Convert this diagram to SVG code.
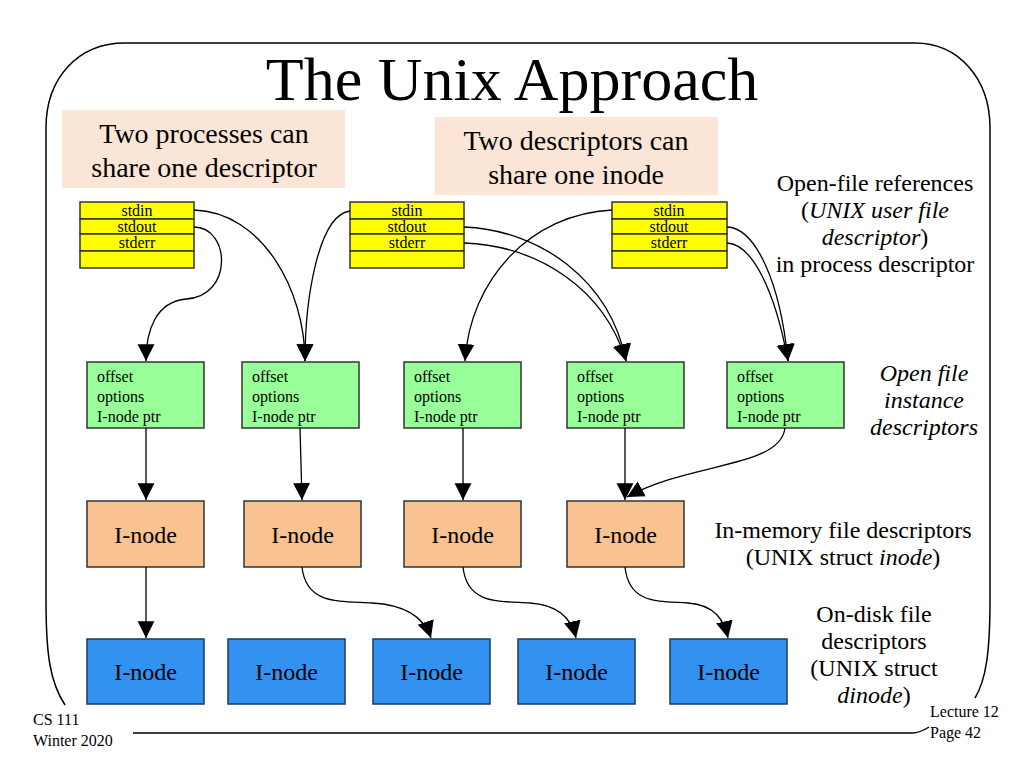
<svg xmlns="http://www.w3.org/2000/svg" width="1024" height="768" viewBox="0 0 1024 768" font-family="'Liberation Serif', 'Times New Roman', serif">
<defs>
<marker id="arr" markerUnits="userSpaceOnUse" markerWidth="18" markerHeight="18" viewBox="0 0 16 16" refX="15" refY="8" orient="auto">
<path d="M0,0.5 L15,8 L0,15.5 Z" fill="#000"/>
</marker>
<style>
text{font-family:"Liberation Serif","Times New Roman",serif;fill:#000}
.frame{fill:none;stroke:#000;stroke-width:1.5}
.note{fill:#fbe5d6}
.yel{fill:#ffff00;stroke:#333;stroke-width:1.5}
.grn{fill:#99ff99;stroke:#333;stroke-width:1.5}
.org{fill:#f8c291;stroke:#333;stroke-width:1.5}
.blu{fill:#3391f0;stroke:#1d3a5c;stroke-width:1.5}
.edge{fill:none;stroke:#000;stroke-width:1.3;marker-end:url(#arr)}
.t16{font-size:16px}
.c16{font-size:16px;text-anchor:middle}
.lbl{font-size:24px;text-anchor:middle}
.box{font-size:24px;text-anchor:middle}
.notet{font-size:28px;text-anchor:middle}
.ft{font-size:16px}
</style>
</defs>
<rect width="1024" height="768" fill="#fff"/>
<g id="frame">
<path class="frame" d="M65,705 C50,682 46,655 46,600 L46,128 C46,78 78,43 125,43 L915,43 C958,43 990,78 990,128 L990,600 C990,652 986,680 975,698"/>
<path class="frame" d="M133,733 L912,733 C919,733 923,731 929,727"/>
</g>
<text x="512" y="100" font-size="62" text-anchor="middle">The Unix Approach</text>
<g id="note1">
<rect class="note" x="62" y="110" width="283" height="78"/>
<text class="notet" x="204" y="143">Two processes can</text>
<text class="notet" x="204" y="177">share one descriptor</text>
</g>
<g id="note2">
<rect class="note" x="435" y="117" width="283" height="78"/>
<text class="notet" x="576" y="150">Two descriptors can</text>
<text class="notet" x="576" y="184">share one inode</text>
</g>
<g id="proc1">
<rect class="yel" x="80" y="202" width="114" height="17"/>
<rect class="yel" x="80" y="219" width="114" height="15"/>
<rect class="yel" x="80" y="234" width="114" height="17"/>
<rect class="yel" x="80" y="251" width="114" height="17"/>
<text class="c16" x="137" y="216">stdin</text>
<text class="c16" x="137" y="232">stdout</text>
<text class="c16" x="137" y="248">stderr</text>
</g>
<g id="proc2">
<rect class="yel" x="350" y="202" width="114" height="17"/>
<rect class="yel" x="350" y="219" width="114" height="15"/>
<rect class="yel" x="350" y="234" width="114" height="17"/>
<rect class="yel" x="350" y="251" width="114" height="17"/>
<text class="c16" x="407" y="216">stdin</text>
<text class="c16" x="407" y="232">stdout</text>
<text class="c16" x="407" y="248">stderr</text>
</g>
<g id="proc3">
<rect class="yel" x="612" y="202" width="115" height="17"/>
<rect class="yel" x="612" y="219" width="115" height="15"/>
<rect class="yel" x="612" y="234" width="115" height="17"/>
<rect class="yel" x="612" y="251" width="115" height="17"/>
<text class="c16" x="669" y="216">stdin</text>
<text class="c16" x="669" y="232">stdout</text>
<text class="c16" x="669" y="248">stderr</text>
</g>
<g id="ofd1"><rect class="grn" x="87" y="362" width="117" height="66"/>
<text class="t16" x="97" y="382">offset</text><text class="t16" x="97" y="402">options</text><text class="t16" x="97" y="422">I-node ptr</text></g>
<g id="ofd2"><rect class="grn" x="242" y="362" width="117" height="66"/>
<text class="t16" x="252" y="382">offset</text><text class="t16" x="252" y="402">options</text><text class="t16" x="252" y="422">I-node ptr</text></g>
<g id="ofd3"><rect class="grn" x="404" y="362" width="117" height="66"/>
<text class="t16" x="414" y="382">offset</text><text class="t16" x="414" y="402">options</text><text class="t16" x="414" y="422">I-node ptr</text></g>
<g id="ofd4"><rect class="grn" x="567" y="362" width="117" height="66"/>
<text class="t16" x="577" y="382">offset</text><text class="t16" x="577" y="402">options</text><text class="t16" x="577" y="422">I-node ptr</text></g>
<g id="ofd5"><rect class="grn" x="727" y="362" width="117" height="66"/>
<text class="t16" x="737" y="382">offset</text><text class="t16" x="737" y="402">options</text><text class="t16" x="737" y="422">I-node ptr</text></g>
<g id="mem1"><rect class="org" x="87" y="501" width="117" height="66"/><text class="box" x="145.5" y="543">I-node</text></g>
<g id="mem2"><rect class="org" x="244" y="501" width="117" height="66"/><text class="box" x="302.5" y="543">I-node</text></g>
<g id="mem3"><rect class="org" x="404" y="501" width="117" height="66"/><text class="box" x="462.5" y="543">I-node</text></g>
<g id="mem4"><rect class="org" x="567" y="501" width="117" height="66"/><text class="box" x="625.5" y="543">I-node</text></g>
<g id="disk1"><rect class="blu" x="87" y="639" width="117" height="65"/><text class="box" x="145.5" y="680">I-node</text></g>
<g id="disk2"><rect class="blu" x="228" y="639" width="117" height="65"/><text class="box" x="286.5" y="680">I-node</text></g>
<g id="disk3"><rect class="blu" x="373" y="639" width="117" height="65"/><text class="box" x="431.5" y="680">I-node</text></g>
<g id="disk4"><rect class="blu" x="518" y="639" width="117" height="65"/><text class="box" x="576.5" y="680">I-node</text></g>
<g id="disk5"><rect class="blu" x="670" y="639" width="117" height="65"/><text class="box" x="728.5" y="680">I-node</text></g>
<g id="connectors">
<path class="edge" d="M194,210 C262,212 305,290 305,361"/>
<path class="edge" d="M194,227 C230,227 234,296 186,299 C156,302 146,330 146,361"/>
<path class="edge" d="M350,211 C318,215 305,300 305,361"/>
<path class="edge" d="M464,227 C540,230 610,280 626,361"/>
<path class="edge" d="M464,243 C540,246 605,290 626,361"/>
<path class="edge" d="M612,210 C530,214 470,280 465,361"/>
<path class="edge" d="M727,227 C755,228 780,280 788,361"/>
<path class="edge" d="M727,243 C752,244 775,290 788,361"/>
<path class="edge" d="M146,428 L146,500"/>
<path class="edge" d="M300,428 L302,500"/>
<path class="edge" d="M463,428 L463,500"/>
<path class="edge" d="M625,428 L625,500"/>
<path class="edge" d="M785,428 C780,468 690,462 627,497"/>
<path class="edge" d="M146,567 L146,638"/>
<path class="edge" d="M302,567 C306,605 340,601 372,603 C410,605 425,620 431,638"/>
<path class="edge" d="M463,567 C467,605 500,601 530,603 C560,605 572,620 576,638"/>
<path class="edge" d="M625,567 C629,605 660,601 688,603 C715,605 724,620 728,638"/>
</g>
<g id="labels">
<text class="lbl" x="875" y="191">Open-file references</text>
<text class="lbl" x="875" y="218">(<tspan font-style="italic">UNIX user file</tspan></text>
<text class="lbl" x="875" y="245"><tspan font-style="italic">descriptor</tspan>)</text>
<text class="lbl" x="875" y="272">in process descriptor</text>
<text class="lbl" x="924" y="381" font-style="italic">Open file</text>
<text class="lbl" x="924" y="408" font-style="italic">instance</text>
<text class="lbl" x="924" y="435" font-style="italic">descriptors</text>
<text class="lbl" x="843" y="538">In-memory file descriptors</text>
<text class="lbl" x="843" y="565">(UNIX struct <tspan font-style="italic">inode</tspan>)</text>
<text class="lbl" x="874" y="622">On-disk file</text>
<text class="lbl" x="874" y="649">descriptors</text>
<text class="lbl" x="874" y="676">(UNIX struct</text>
<text class="lbl" x="874" y="703"><tspan font-style="italic">dinode</tspan>)</text>
</g>
<g id="footer">
<text class="ft" x="33" y="725">CS 111</text>
<text class="ft" x="33" y="746">Winter 2020</text>
<text class="ft" x="930" y="717">Lecture 12</text>
<text class="ft" x="930" y="738">Page 42</text>
</g>
</svg>
